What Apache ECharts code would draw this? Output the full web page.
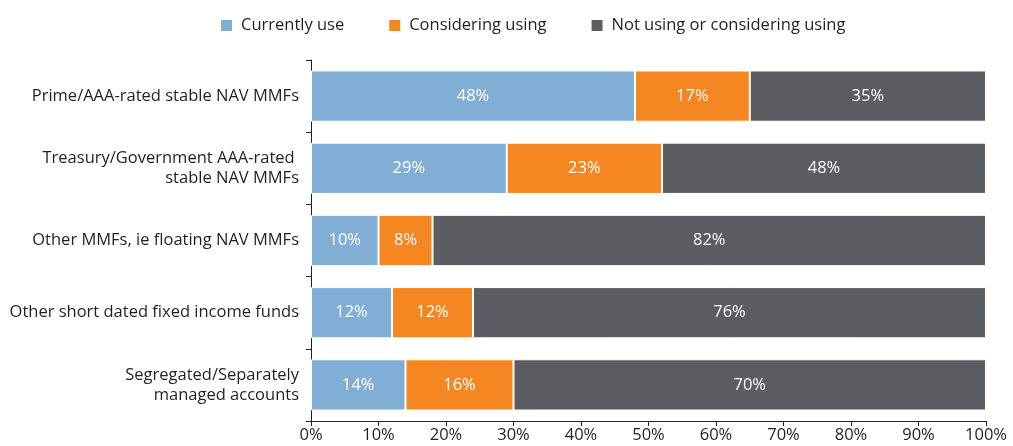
<!DOCTYPE html>
<html>
<head>
<meta charset="utf-8">
<script src="https://cdn.jsdelivr.net/npm/echarts@6/dist/echarts.min.js"></script>
<style>
  html, body { margin: 0; padding: 0; background: #fff; }
  #chart { width: 1013px; height: 446px; }
</style>
</head>
<body>
<div id="chart"></div>
<script>
// Fund types, listed top to bottom
const categories = [
  'Prime/AAA-rated stable NAV MMFs',
  'Treasury/Government AAA-rated \nstable NAV MMFs',
  'Other MMFs, ie floating NAV MMFs',
  'Other short dated fixed income funds',
  'Segregated/Separately\nmanaged accounts'
];
const seriesNames = ['Currently use', 'Considering using', 'Not using or considering using'];
const currentlyUse = [48, 29, 10, 12, 14];
const consideringUsing = [17, 23, 8, 12, 16];
const notUsing = [35, 48, 82, 76, 70];
const xTicks = [0, 10, 20, 30, 40, 50, 60, 70, 80, 90, 100];

const colors = ['#80aed4', '#f58722', '#5c5d62'];
const font = '"Open Sans", "Noto Sans", sans-serif';
const textColor = '#231f20';

const chart = echarts.init(document.getElementById('chart'), null, { renderer: 'canvas' });

function barSeries(name, data, color) {
  return {
    name: name,
    type: 'bar',
    stack: 'total',
    barWidth: '71%',
    data: data,
    itemStyle: { color: color, borderColor: '#ffffff', borderWidth: 1 },
    label: {
      show: true,
      position: 'inside',
      formatter: p => p.value + '%',
      color: '#ffffff',
      fontFamily: font,
      fontSize: 16.5
    }
  };
}

chart.setOption({
  animation: false,
  backgroundColor: '#ffffff',
  color: colors,
  legend: {
    top: 12,
    left: 214,
    itemWidth: 13,
    itemHeight: 13,
    itemGap: 43,
    icon: 'rect',
    textStyle: { fontFamily: font, fontSize: 16.5, color: textColor, padding: [0, 0, 0, 3] },
    data: seriesNames
  },
  grid: { left: 311, right: 27, top: 60, bottom: 25, containLabel: false },
  xAxis: {
    type: 'value',
    min: xTicks[0],
    max: xTicks[xTicks.length - 1],
    interval: 10,
    axisLine: { show: true, lineStyle: { color: textColor, width: 1 } },
    axisTick: { show: true, length: 5, lineStyle: { color: textColor } },
    splitLine: { show: false },
    axisLabel: {
      formatter: v => v + '%',
      fontFamily: font,
      fontSize: 16.5,
      color: textColor,
      margin: 6
    }
  },
  yAxis: {
    type: 'category',
    inverse: true,
    data: categories,
    axisLine: { show: true, lineStyle: { color: textColor, width: 1 } },
    axisTick: { show: true, length: 5, lineStyle: { color: textColor } },
    axisLabel: {
      fontFamily: font,
      fontSize: 16.5,
      color: textColor,
      margin: 12,
      lineHeight: 20,
      align: 'right'
    }
  },
  series: [
    barSeries(seriesNames[0], currentlyUse, colors[0]),
    barSeries(seriesNames[1], consideringUsing, colors[1]),
    barSeries(seriesNames[2], notUsing, colors[2])
  ]
});
</script>
</body>
</html>
